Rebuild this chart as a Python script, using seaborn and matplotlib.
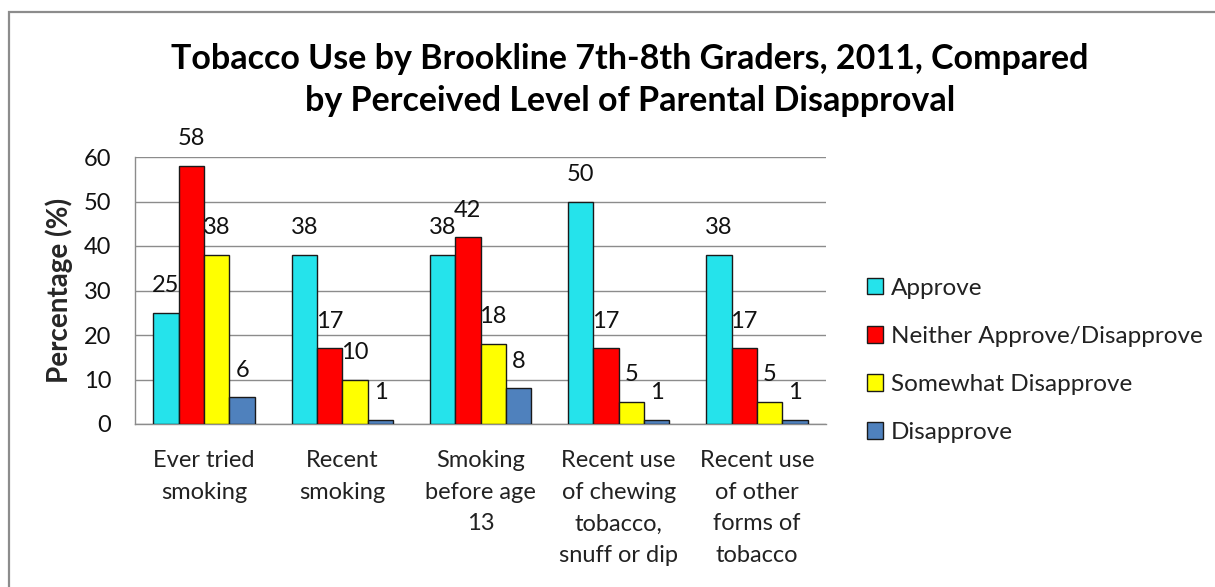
import numpy as np
import pandas as pd
import matplotlib
matplotlib.use("Agg")
import matplotlib.pyplot as plt
from matplotlib.patches import Rectangle
import seaborn as sns

categories = ["Ever tried\nsmoking", "Recent\nsmoking", "Smoking\nbefore age\n13",
              "Recent use\nof chewing\ntobacco,\nsnuff or dip", "Recent use\nof other\nforms of\ntobacco"]
series_names = ["Approve", "Neither Approve/Disapprove", "Somewhat Disapprove", "Disapprove"]
approve = [25, 38, 38, 50, 38]
neither = [58, 17, 42, 17, 17]
somewhat = [38, 10, 18, 5, 5]
disapprove = [6, 1, 8, 1, 1]
colors = ["#25E3EB", "#FF0000", "#FFFF00", "#4F81BD"]
title = "Tobacco Use by Brookline 7th-8th Graders, 2011, Compared\nby Perceived Level of Parental Disapproval"
ylabel = "Percentage (%)"
yticks = [0, 10, 20, 30, 40, 50, 60]

rows = []
for name, vals in zip(series_names, [approve, neither, somewhat, disapprove]):
    for c, v in zip(categories, vals):
        rows.append({"Category": c, "Response": name, "Percentage": v})
df = pd.DataFrame(rows)

sns.set_theme(style="white")
plt.rcParams["font.family"] = ["Lato", "DejaVu Sans"]
plt.rcParams["text.color"] = "#000000"

FS = 17
W, H = 1215, 587
fig = plt.figure(figsize=(W / 100, H / 100), dpi=100)
fig.patch.set_facecolor("white")
ax = fig.add_axes([135 / W, 1 - 424 / H, (826 - 135) / W, (424 - 157) / H])

sns.barplot(data=df, x="Category", y="Percentage", hue="Response",
            hue_order=series_names, order=categories, palette=colors,
            width=0.735, gap=0, errorbar=None, saturation=1,
            edgecolor="#1a1a1a", linewidth=1.0, ax=ax, zorder=3)

for cont in ax.containers:
    for bar in cont:
        h = bar.get_height()
        ax.annotate(f"{h:.0f}", (bar.get_x() + bar.get_width() / 2, h),
                    xytext=(0, 19.5), textcoords="offset points",
                    ha="center", va="center", fontsize=FS, color="#111111",
                    zorder=2)

ax.set_ylim(0, 60)
ax.set_xlim(-0.5, len(categories) - 0.5)
ax.set_yticks(yticks)
ax.set_yticklabels([str(t) for t in yticks], fontsize=FS, color="#111111")
ax.set_xticks(range(len(categories)))
ax.set_xticklabels(categories, fontsize=FS, linespacing=1.64, color="#222222")
ax.set_xticks(np.arange(-0.5, len(categories)), minor=True)
ax.tick_params(axis="x", which="major", length=0, pad=18.5)
ax.tick_params(axis="x", which="minor", length=6, width=1, color="#8c8c8c", direction="out")
ax.tick_params(axis="y", length=6, width=1, color="#8c8c8c", direction="out", pad=11)
ax.set_xlabel("")
ax.set_ylabel(ylabel, fontsize=20, fontweight="bold", labelpad=8)

ax.grid(axis="y", color="#8c8c8c", linewidth=1)
ax.set_axisbelow(True)
for s in ["top", "right"]:
    ax.spines[s].set_visible(False)
for s in ["left", "bottom"]:
    ax.spines[s].set_color("#8c8c8c")
    ax.spines[s].set_linewidth(1)

sns.move_legend(ax, "center left", bbox_to_anchor=(845 / W, 1 - 360.5 / H),
                bbox_transform=fig.transFigure, title=None, frameon=False,
                fontsize=17.5, handlelength=0.68, handleheight=0.68,
                handletextpad=0.3, labelspacing=1.12)
for t in ax.get_legend().get_texts():
    t.set_color("#222222")

fig.text(630 / W, 1 - 80 / H, title, ha="center", va="center",
         fontsize=24.5, fontweight="bold", linespacing=1.4)

fig.patches.append(Rectangle((9 / W, -0.1), 2.0, (1 - 12 / H) + 0.1,
                             transform=fig.transFigure, fill=False,
                             edgecolor="#8c8c8c", linewidth=1.6, clip_on=False))

fig.savefig("out.png", dpi=100, facecolor="white")
